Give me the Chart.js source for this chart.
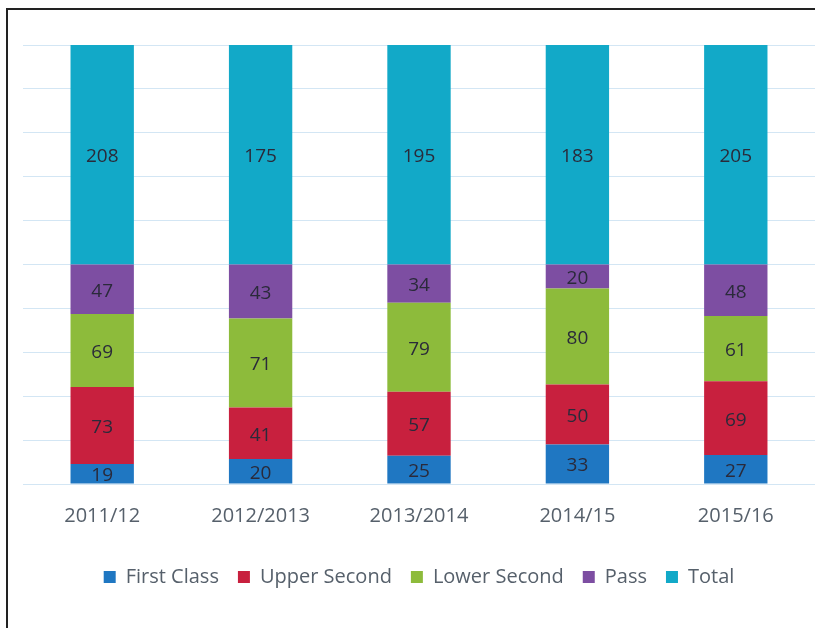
<!DOCTYPE html>
<html>
<head>
<meta charset="utf-8">
<script src="https://cdn.jsdelivr.net/npm/chart.js@4.4.1/dist/chart.umd.min.js"></script>
<style>
  html, body { margin: 0; padding: 0; background: #fff; }
  #wrap { position: relative; width: 815px; height: 628px; }
  #frame {
    position: absolute; left: 6px; top: 8px; right: 0; bottom: 0;
    border-top: 2px solid #222; border-left: 2px solid #222;
    pointer-events: none;
  }
  canvas { position: absolute; left: 0; top: 0; }
</style>
</head>
<body>
<div id="wrap">
  <canvas id="chart" width="815" height="628"></canvas>
  <div id="frame"></div>
</div>
<script>
'use strict';

// ── Data ─────────────────────────────────────────────────────────────────────
const years        = ['2011/12', '2012/2013', '2013/2014', '2014/15', '2015/16'];
const firstClass   = [19, 20, 25, 33, 27];
const upperSecond  = [73, 41, 57, 50, 69];
const lowerSecond  = [69, 71, 79, 80, 61];
const pass         = [47, 43, 34, 20, 48];
const total        = [208, 175, 195, 183, 205];

const FONT = '"Open Sans", Lato, sans-serif';

const series = [
  { label: 'First Class',   data: firstClass,  color: '#1f77c2' },
  { label: 'Upper Second',  data: upperSecond, color: '#c8203e' },
  { label: 'Lower Second',  data: lowerSecond, color: '#8dbb3b' },
  { label: 'Pass',          data: pass,        color: '#7d4ea2' },
  { label: 'Total',         data: total,       color: '#12a9c8' },
];

// 100% stacked: each column is scaled to its own sum
const colSums = years.map((_, j) => series.reduce((acc, s) => acc + s.data[j], 0));

// ── Value labels inside each segment (raw counts) ────────────────────────────
const segmentLabels = {
  id: 'segmentLabels',
  afterDatasetsDraw(chart) {
    const ctx = chart.ctx;
    ctx.save();
    ctx.font = '19px ' + FONT;
    ctx.fillStyle = '#2a2a3a';
    ctx.textAlign = 'center';
    ctx.textBaseline = 'middle';
    chart.data.datasets.forEach((ds, i) => {
      const meta = chart.getDatasetMeta(i);
      meta.data.forEach((bar, j) => {
        const p = bar.getCenterPoint();
        ctx.fillText(String(series[i].data[j]), p.x, p.y + 2);
      });
    });
    ctx.restore();
  }
};

new Chart(document.getElementById('chart'), {
  type: 'bar',
  data: {
    labels: years,
    datasets: series.map(s => ({
      label: s.label,
      data: s.data.map((v, j) => v / colSums[j] * 100),
      backgroundColor: s.color,
      borderWidth: 0,
      barPercentage: 0.4,
      categoryPercentage: 1.0,
    })),
  },
  options: {
    responsive: false,
    animation: false,
    layout: { padding: { left: 23, right: 0, top: 45, bottom: 31 } },
    plugins: {
      tooltip: { enabled: false },
      legend: {
        position: 'bottom',
        labels: {
          font: { family: FONT, size: 20 },
          color: '#56606b',
          boxWidth: 12,
          boxHeight: 12,
          padding: 19,
        },
      },
    },
    scales: {
      x: {
        stacked: true,
        grid: { display: false, drawTicks: false },
        border: { display: false },
        ticks: {
          font: { family: FONT, size: 20 },
          color: '#56606b',
          padding: 20,
        },
      },
      y: {
        stacked: true,
        min: 0,
        max: 100,
        afterFit: scale => { scale.width = 0; },
        grid: { color: '#d3e6f4', lineWidth: 1, drawTicks: false },
        border: { display: false },
        ticks: { display: false, stepSize: 10 },
      },
    },
  },
  plugins: [segmentLabels],
});
</script>
</body>
</html>
